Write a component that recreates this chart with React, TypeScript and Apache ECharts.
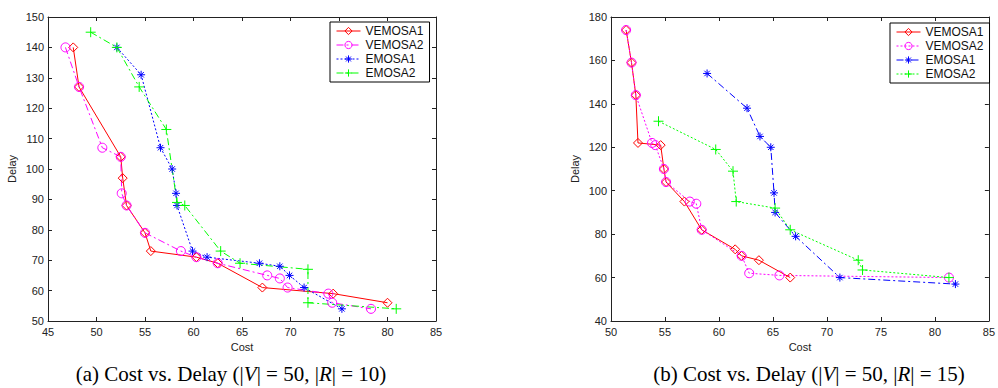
import React, { useEffect, useRef } from 'react';
import * as echarts from 'echarts';

// ---- (a) |V| = 50, |R| = 10 : [cost, delay]
const A_VEMOSA1: number[][] = [[47.6,140],[48.2,127],[52.5,104],[52.7,97],[53.1,88],[55,79],[55.6,73],[60.3,71],[62.5,69],[67.1,61],[74.4,59],[80,56]];
const A_VEMOSA2: number[][] = [[46.8,140],[48.2,127],[50.6,107],[52.5,104],[52.6,92],[53.1,88],[55,79],[58.7,73],[60.3,71],[62.5,69],[67.6,65],[68.9,64],[69.7,61],[73.9,59],[74.3,56],[78.3,54]];
const A_EMOSA1: number[][] = [[52.1,140],[54.6,131],[56.6,107],[57.8,100],[58.2,92],[58.3,88],[59.9,73],[61.4,71],[66.8,69],[68.9,68],[69.9,65],[71.4,61],[75.3,54]];
const A_EMOSA2: number[][] = [[49.4,145],[52.1,140],[54.4,127],[57.2,113],[58.3,89],[59.1,88],[62.8,73],[64.8,69],[71.8,67],[71.8,56],[80.9,54]];

// ---- (b) |V| = 50, |R| = 15 : [cost, delay]
const B_VEMOSA1: number[][] = [[51.4,174],[51.9,159],[52.3,144],[52.5,122],[54.6,121],[54.9,110],[55.1,104],[56.8,95],[58.4,82],[61.5,73],[62.1,70],[63.7,68],[66.6,60]];
const B_VEMOSA2: number[][] = [[51.4,174],[51.9,159],[52.3,144],[53.8,122],[54.1,121],[54.9,110],[55.1,104],[57.3,95],[57.9,94],[58.4,82],[62.1,70],[62.8,62],[65.6,61],[81.3,60]];
const B_EMOSA1: number[][] = [[58.9,154],[62.6,138],[63.8,125],[64.8,120],[65.1,99],[65.2,90],[67.1,79],[71.2,60],[81.9,57]];
const B_EMOSA2: number[][] = [[54.4,132],[59.7,119],[61.3,109],[61.6,95],[65.2,92],[66.6,82],[72.9,68],[73.3,63.5],[81.3,60]];

const SERIES_NAMES = ['VEMOSA1', 'VEMOSA2', 'EMOSA1', 'EMOSA2'];
const CAPTION_A = ['(a) Cost vs. Delay (|', 'V', '| = 50, |', 'R', '| = 10)'];
const CAPTION_B = ['(b) Cost vs. Delay (|', 'V', '| = 50, |', 'R', '| = 15)'];

const RED = '#ff0000';
const MAG = '#ff00ff';
const BLUE = '#0000ff';
const GREEN = '#00ff00';
const PLUS = 'path://M5,0L5,10M0,5L10,5';
const STAR = 'path://M5,0L5,10M0,5L10,5M1.6,1.6L8.4,8.4M1.6,8.4L8.4,1.6';
const SANS = '"Liberation Sans", Arial, Helvetica, sans-serif';
const SERIF = '"Liberation Serif", "Times New Roman", serif';
const DASHDOT = [7, 3, 2, 3];
const DOT = [2, 2];

function mk(name: string, data: number[][], color: string, symbol: string, dash: any, gi: number, size: number) {
  const isPath = symbol.startsWith('path');
  return {
    type: 'line',
    name: name + '@' + gi,
    data,
    xAxisIndex: gi * 2,
    yAxisIndex: gi * 2,
    symbol,
    symbolSize: size,
    showAllSymbol: true,
    lineStyle: { color, width: 1, type: dash },
    itemStyle: { color: isPath ? color : 'rgba(255,255,255,0)', borderColor: color, borderWidth: 1 },
    emphasis: { disabled: true },
    silent: true,
  };
}

function xAxes(gi: number, min: number, max: number) {
  const common = {
    gridIndex: gi, type: 'value', min, max, interval: 5,
    axisLine: { show: true, onZero: false, lineStyle: { color: '#222', width: 1 } },
    axisTick: { show: true, inside: true, length: 4, lineStyle: { color: '#222' } },
    splitLine: { show: false },
  };
  return [
    { ...common, position: 'bottom',
      axisLabel: { margin: 5, fontSize: 11, color: '#222', fontFamily: SANS, showMaxLabel: true, showMinLabel: true },
      name: 'Cost', nameLocation: 'middle', nameGap: 19,
      nameTextStyle: { fontSize: 11, color: '#222', fontFamily: SANS } },
    { ...common, position: 'top', axisLabel: { show: false } },
  ];
}

function yAxes(gi: number, min: number, max: number, interval: number, gap: number) {
  const common = {
    gridIndex: gi, type: 'value', min, max, interval,
    axisLine: { show: true, onZero: false, lineStyle: { color: '#222', width: 1 } },
    axisTick: { show: true, inside: true, length: 4, lineStyle: { color: '#222' } },
    splitLine: { show: false },
  };
  return [
    { ...common, position: 'left',
      axisLabel: { margin: 4, fontSize: 11, color: '#222', fontFamily: SANS },
      name: 'Delay', nameLocation: 'middle', nameGap: gap,
      nameTextStyle: { fontSize: 11, color: '#222', fontFamily: SANS } },
    { ...common, position: 'right', axisLabel: { show: false } },
  ];
}

function legend(gi: number, left: number, top: number) {
  return {
    orient: 'vertical', left, top,
    data: SERIES_NAMES.map((n) => n + '@' + gi),
    formatter: (n: string) => n.split('@')[0],
    backgroundColor: '#fff', borderColor: '#000', borderWidth: 1, borderRadius: 0,
    padding: [3, 6, 3, 6], itemGap: 2, itemWidth: 24, itemHeight: 9,
    lineStyle: { width: 1 },
    itemStyle: { borderWidth: 1 },
    textStyle: { fontSize: 12, color: '#111', fontFamily: SANS },
    selectedMode: false,
  };
}

function caption(parts: string[], x: number, y: number) {
  const text = parts.map((p, i) => (i % 2 === 1 ? `{i|${p}}` : `{n|${p}}`)).join('');
  return {
    type: 'text', x, y,
    style: {
      text, align: 'center', verticalAlign: 'middle',
      rich: {
        n: { fontFamily: SERIF, fontSize: 21, fill: '#000' },
        i: { fontFamily: SERIF, fontSize: 21, fontStyle: 'italic', fill: '#000' },
      },
    },
  };
}

export default function App() {
  const ref = useRef<HTMLDivElement>(null);
  useEffect(() => {
    if (!ref.current) return;
    const chart = echarts.init(ref.current, undefined, { renderer: 'svg' });
    chart.setOption({
      animation: false,
      backgroundColor: '#fff',
      grid: [
        { left: 48, top: 17, width: 388, height: 304 },
        { left: 611, top: 17, width: 385, height: 304 },
      ],
      xAxis: [...xAxes(0, 45, 85), ...xAxes(1, 50, 85)],
      yAxis: [...yAxes(0, 50, 150, 10, 31), ...yAxes(1, 40, 180, 20, 31)],
      legend: [legend(0, 330, 22), legend(1, 890, 23)],
      series: [
        mk('VEMOSA1', A_VEMOSA1, RED, 'diamond', 'solid', 0, 9),
        mk('VEMOSA2', A_VEMOSA2, MAG, 'circle', DASHDOT, 0, 9),
        mk('EMOSA1', A_EMOSA1, BLUE, STAR, DOT, 0, 8),
        mk('EMOSA2', A_EMOSA2, GREEN, PLUS, DASHDOT, 0, 10),
        mk('VEMOSA1', B_VEMOSA1, RED, 'diamond', 'solid', 1, 9),
        mk('VEMOSA2', B_VEMOSA2, MAG, 'circle', DOT, 1, 9),
        mk('EMOSA1', B_EMOSA1, BLUE, STAR, DASHDOT, 1, 8),
        mk('EMOSA2', B_EMOSA2, GREEN, PLUS, DOT, 1, 10),
      ],
      graphic: [caption(CAPTION_A, 231, 374), caption(CAPTION_B, 809, 374)],
    });
    return () => chart.dispose();
  }, []);
  return (
    <div
      ref={ref}
      style={{ position: 'fixed', left: 0, top: 0, width: 998, height: 388, background: '#fff' }}
    />
  );
}
